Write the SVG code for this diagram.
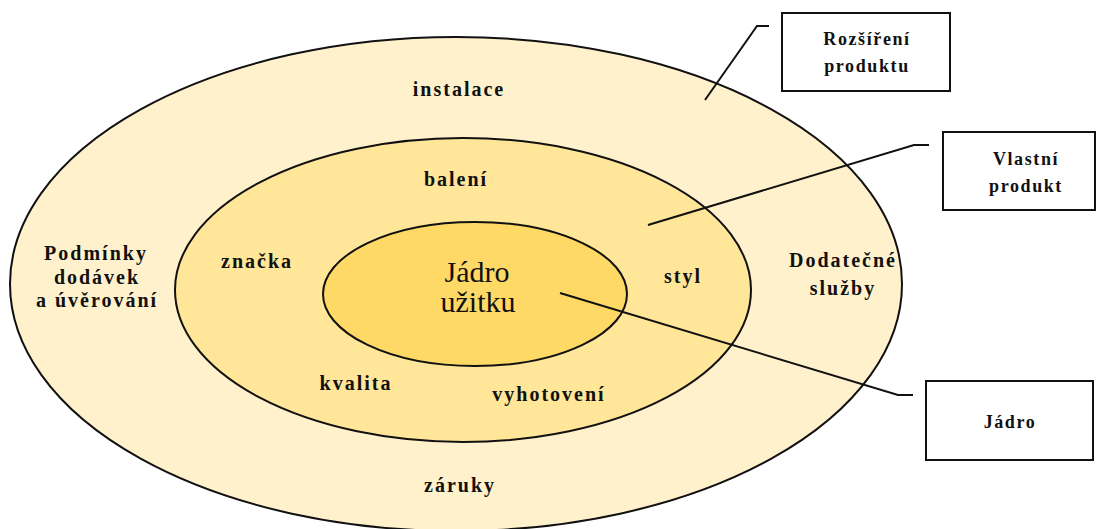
<svg xmlns="http://www.w3.org/2000/svg" width="1098" height="529" viewBox="0 0 1098 529">
<style>
.ring{stroke:#111;stroke-width:2}
.lbl{font-family:'Liberation Serif','Times New Roman','DejaVu Serif',serif;font-weight:bold;font-size:20px;letter-spacing:2px;fill:#111;text-anchor:middle}
.core{font-family:'Liberation Serif','Times New Roman','DejaVu Serif',serif;font-size:30px;fill:#111;text-anchor:middle}
.box{fill:#fff;stroke:#111;stroke-width:2}
.btxt{font-family:'Liberation Serif','Times New Roman','DejaVu Serif',serif;font-weight:bold;font-size:18px;letter-spacing:1.6px;fill:#111;text-anchor:middle}
.lead{fill:none;stroke:#111;stroke-width:2}
</style>
<rect width="1098" height="529" fill="#fff"/>
<g id="outer">
<ellipse class="ring" cx="456" cy="284" rx="446" ry="247" fill="#FFF1CC"/>
<text class="lbl" x="459" y="96">instalace</text>
<text class="lbl" x="96" y="260">Podmínky</text>
<text class="lbl" x="97" y="284">dodávek</text>
<text class="lbl" x="97" y="307">a úvěrování</text>
<text class="lbl" x="843" y="267">Dodatečné</text>
<text class="lbl" x="843" y="295">služby</text>
<text class="lbl" x="460" y="492">záruky</text>
</g>
<g id="middle">
<ellipse class="ring" cx="463" cy="290" rx="288" ry="152" fill="#FFE699"/>
<text class="lbl" x="456" y="186">balení</text>
<text class="lbl" x="257" y="268">značka</text>
<text class="lbl" x="683" y="283">styl</text>
<text class="lbl" x="356" y="390">kvalita</text>
<text class="lbl" x="549" y="401">vyhotovení</text>
</g>
<g id="inner">
<ellipse class="ring" cx="475" cy="294" rx="152" ry="72" fill="#FFD966"/>
<text class="core" x="477" y="282">Jádro</text>
<text class="core" x="478" y="312">užitku</text>
</g>
<g id="connectors">
<polyline class="lead" points="705,100 757,26 769,26"/>
<polyline class="lead" points="648,225 914,145 929,145"/>
<polyline class="lead" points="560,293 898,395 913,395"/>
</g>
<g id="box-rozsireni">
<rect class="box" x="782" y="13" width="168" height="78"/>
<text class="btxt" x="867" y="45">Rozšíření</text>
<text class="btxt" x="867" y="72">produktu</text>
</g>
<g id="box-vlastni">
<rect class="box" x="943" y="132" width="152" height="78"/>
<text class="btxt" x="1026" y="165">Vlastní</text>
<text class="btxt" x="1026" y="192">produkt</text>
</g>
<g id="box-jadro">
<rect class="box" x="926" y="381" width="167" height="79"/>
<text class="btxt" x="1010" y="428">Jádro</text>
</g>
</svg>
